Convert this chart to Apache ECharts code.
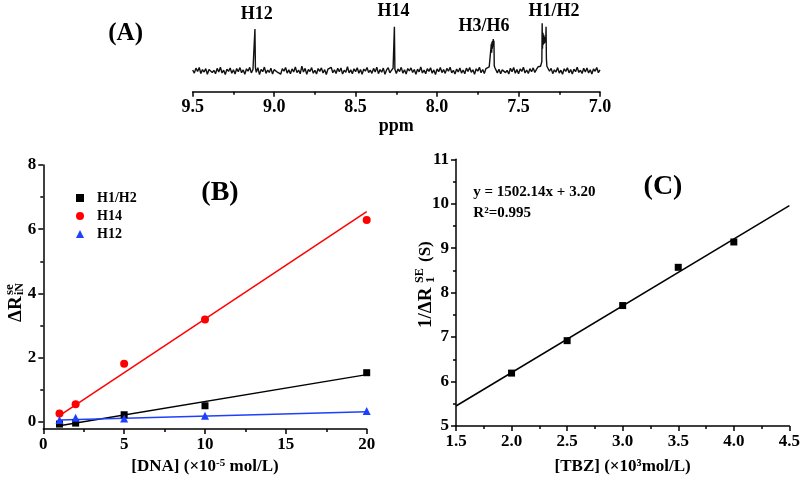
<!DOCTYPE html>
<html><head><meta charset="utf-8">
<script src="https://cdn.jsdelivr.net/npm/echarts@6/dist/echarts.min.js"></script>
<style>html,body{margin:0;padding:0;background:#fff}#c{width:803px;height:480px}</style>
</head><body><div id="c"></div>
<script>
// ---------- Panel A: 1H NMR spectrum (ppm, intensity) ----------
const spectrum = [
[9.50,0.5],[9.49,-1.8],[9.48,1.9],[9.47,-0.6],[9.46,2.4],[9.45,-2.1],[9.44,0.8],[9.43,-1.0],[9.42,1.5],[9.41,-2.6],
[9.40,0.9],[9.39,2.2],[9.38,-1.4],[9.37,0.3],[9.36,-2.3],[9.35,1.7],[9.34,-0.9],[9.33,2.6],[9.32,-1.7],[9.31,0.4],
[9.30,-2.8],[9.29,1.2],[9.28,-0.5],[9.27,2.0],[9.26,-1.9],[9.25,0.7],[9.24,-2.4],[9.23,1.6],[9.22,-0.8],[9.21,2.3],
[9.20,-1.5],[9.19,0.6],[9.18,-2.7],[9.17,1.4],[9.16,-0.3],[9.15,2.5],[9.14,-1.6],[9.13,0.9],[9.12,1.8],
[9.118,30.9],[9.115,2.2],
[9.11,-1.2],[9.10,2.2],[9.09,-2.9],[9.08,1.0],[9.07,-0.7],[9.06,2.7],[9.05,-2.0],[9.04,0.5],[9.03,-1.3],[9.02,1.9],
[9.01,-2.5],[9.00,0.8],[8.99,2.1],[8.98,-1.1],[8.97,0.2],[8.96,-2.6],[8.95,1.5],[8.94,-0.4],[8.93,2.4],[8.92,-1.8],
[8.91,0.6],[8.90,-2.2],[8.89,1.3],[8.88,-0.9],[8.87,2.8],[8.86,-1.4],[8.85,0.4],[8.84,-2.3],[8.83,3.4],[8.82,-1.0],
[8.81,1.7],[8.80,-2.7],[8.79,0.9],[8.78,-0.6],[8.77,2.3],[8.76,-1.9],[8.75,0.3],[8.74,-2.4],[8.73,1.6],[8.72,-0.5],
[8.71,2.1],[8.70,-1.7],[8.69,0.8],[8.68,-2.8],[8.67,1.1],[8.66,-0.2],[8.65,2.5],[8.64,-1.5],[8.63,0.7],[8.62,-2.1],
[8.61,1.8],[8.60,-0.8],[8.59,2.0],[8.58,-2.5],[8.57,0.4],[8.56,-1.2],[8.55,2.9],[8.54,-1.6],[8.53,0.6],[8.52,-2.3],
[8.51,1.4],[8.50,-0.7],[8.49,2.2],[8.48,-1.9],[8.47,0.9],[8.46,-2.6],[8.45,1.2],[8.44,-0.3],[8.43,2.4],[8.42,-1.4],
[8.41,0.5],[8.40,-2.0],[8.39,1.7],[8.38,-0.9],[8.37,2.6],[8.36,-2.2],[8.35,0.8],[8.34,-1.1],[8.33,1.9],[8.32,-2.7],
[8.31,0.6],[8.30,2.3],[8.29,-1.5],[8.28,0.2],[8.27,1.8],
[8.265,0.8],[8.262,32.6],[8.259,1.1],
[8.25,-2.1],[8.24,1.3],[8.23,-0.6],[8.22,2.5],[8.21,-1.8],[8.20,0.7],[8.19,-2.4],[8.18,1.6],[8.17,-0.2],[8.16,2.1],
[8.15,-1.3],[8.14,0.9],[8.13,-2.6],[8.12,1.1],[8.11,-0.8],[8.10,2.7],[8.09,-1.7],[8.08,0.4],[8.07,-2.2],[8.06,1.5],
[8.05,-0.5],[8.04,2.2],[8.03,-1.9],[8.02,0.6],[8.01,-2.8],[8.00,1.3],[7.99,-0.7],[7.98,2.4],[7.97,-1.4],[7.96,0.8],
[7.95,-2.0],[7.94,1.7],[7.93,-0.4],[7.92,2.6],[7.91,-1.6],[7.90,0.3],[7.89,-2.5],[7.88,1.2],[7.87,-0.9],[7.86,2.0],
[7.85,-1.8],[7.84,0.5],[7.83,-2.3],[7.82,1.9],[7.81,-0.6],[7.80,2.3],[7.79,-1.2],[7.78,0.7],[7.77,-2.7],[7.76,1.4],
[7.75,-0.3],[7.74,2.5],[7.73,-1.5],[7.72,0.9],[7.71,-2.1],[7.70,1.6],[7.69,0.2],[7.68,2.8],[7.675,3.0],
[7.670,3.2],[7.667,20.0],[7.665,13.3],[7.663,21.5],[7.661,16.3],[7.659,22.2],[7.657,17.8],[7.655,23.5],[7.653,19.3],[7.651,22.2],[7.649,3.7],
[7.645,2.2],[7.64,0.8],[7.63,-1.6],[7.62,1.1],[7.61,-2.3],[7.60,0.6],[7.59,2.0],[7.58,-1.4],[7.57,0.3],[7.56,-2.5],
[7.55,1.8],[7.54,-0.7],[7.53,2.4],[7.52,-1.9],[7.51,0.8],[7.50,-2.2],[7.49,1.3],[7.48,-0.5],[7.47,2.6],[7.46,-1.7],
[7.45,0.5],[7.44,-2.0],[7.43,1.5],[7.42,-0.8],[7.41,2.1],[7.40,-1.3],[7.39,1.0],[7.38,2.9],[7.37,2.0],[7.365,3.3],
[7.360,3.5],[7.357,6.7],[7.355,35.1],[7.353,16.3],[7.350,28.1],[7.348,19.3],[7.345,26.7],[7.343,20.0],[7.340,25.2],
[7.338,20.7],[7.335,24.4],[7.333,22.2],[7.331,32.6],[7.329,8.9],[7.326,3.3],
[7.32,2.2],[7.31,-0.4],[7.30,1.7],[7.29,-2.2],[7.28,0.6],[7.27,-1.0],[7.26,2.3],[7.25,-1.8],[7.24,0.4],[7.23,-2.6],
[7.22,1.4],[7.21,-0.5],[7.20,2.2],[7.19,-1.6],[7.18,0.9],[7.17,-2.4],[7.16,1.1],[7.15,-0.7],[7.14,2.5],[7.13,-1.3],
[7.12,0.3],[7.11,-2.1],[7.10,1.8],[7.09,-0.9],[7.08,2.0],[7.07,-1.7],[7.06,0.7],[7.05,-2.5],[7.04,1.3],[7.03,-0.4],
[7.02,2.4],[7.01,-1.5],[7.00,0.6]
];
const peakLabels = ['H12', 'H14', 'H3/H6', 'H1/H2'];

// ---------- Panel B ----------
const dnaConc = [1, 2, 5, 10, 20];
const h1h2 = [-0.07, -0.04, 0.22, 0.50, 1.53];
const h14  = [0.26, 0.55, 1.81, 3.19, 6.29];
const h12  = [0.06, 0.13, 0.10, 0.19, 0.34];
const fitH1H2 = [[1, -0.12], [20, 1.47]];
const fitH14  = [[1, 0.19], [20, 6.55]];
const fitH12  = [[1, 0.06], [20, 0.31]];
const bYTicks = [0, 2, 4, 6, 8];
const bYMinor = [1, 3, 5, 7];

// ---------- Panel C ----------
const tbzConc = [2.0, 2.5, 3.0, 3.5, 4.0];
const invR1   = [6.19, 6.92, 7.71, 8.57, 9.14];
const fitTbz  = [[1.5, 5.45], [4.5, 9.96]];
const equationText = 'y = 1502.14x + 3.20';
const r2Text = 'R\u00B2=0.995';

const SERIF = '"Liberation Serif","Times New Roman",serif';
const BLACK = '#000';
const RED = '#ff0000';
const BLUE = '#1f3fff';

function tickStyle(len) { return { show: true, length: len, inside: false, lineStyle: { color: BLACK, width: 1.5 } }; }
const axisLineS = { show: true, onZero: false, lineStyle: { color: BLACK, width: 1.5 } };
function lbl(size, extra) { return Object.assign({ color: BLACK, fontFamily: SERIF, fontWeight: 'bold', fontSize: size }, extra || {}); }

const chart = echarts.init(document.getElementById('c'), null, { renderer: 'canvas' });

const option = {
  animation: false,
  backgroundColor: '#fff',
  grid: [
    { left: 192.7, width: 407.3, top: 21.7, height: 70 },
    { left: 43.3, width: 323.4, top: 165, height: 265 },
    { left: 456, width: 334.7, top: 159.3, height: 269 }
  ],
  xAxis: [
    { gridIndex: 0, type: 'value', inverse: true, min: 7, max: 9.5, interval: 0.5,
      axisLine: axisLineS, axisTick: tickStyle(5),
      minorTick: { show: true, splitNumber: 2, length: 3, lineStyle: { color: BLACK, width: 1.5 } },
      axisLabel: lbl(18, { margin: 7, formatter: v => v.toFixed(1) }),
      splitLine: { show: false }, minorSplitLine: { show: false },
      name: 'ppm', nameLocation: 'middle', nameGap: 26, nameTextStyle: lbl(18) },
    { gridIndex: 1, type: 'value', min: 0, max: 20, interval: 5,
      axisLine: axisLineS, axisTick: tickStyle(5),
      minorTick: { show: true, splitNumber: 2, length: 3, lineStyle: { color: BLACK, width: 1.5 } },
      axisLabel: lbl(17, { margin: 7 }),
      splitLine: { show: false },
      name: '[DNA] (\u00D710{sup|-5} mol/L)', nameLocation: 'middle', nameGap: 25,
      nameTextStyle: lbl(17, { rich: { sup: lbl(11, { verticalAlign: 'top', lineHeight: 11 }) } }) },
    { gridIndex: 2, type: 'value', min: 1.5, max: 4.5, interval: 0.5,
      axisLine: axisLineS, axisTick: tickStyle(5),
      minorTick: { show: true, splitNumber: 2, length: 3, lineStyle: { color: BLACK, width: 1.5 } },
      axisLabel: lbl(17, { margin: 7, formatter: v => v.toFixed(1) }),
      splitLine: { show: false },
      name: '[TBZ] (\u00D710\u00B3mol/L)', nameLocation: 'middle', nameGap: 32, nameTextStyle: lbl(17) }
  ],
  yAxis: [
    { gridIndex: 0, type: 'value', min: -15.56, max: 36.3, show: false, splitLine: { show: false } },
    { gridIndex: 1, type: 'value', min: -0.227, max: 8, position: 'left',
      axisLine: axisLineS,
      axisTick: Object.assign(tickStyle(5), { customValues: bYTicks }),
      axisLabel: lbl(17, { margin: 7, customValues: bYTicks }),
      splitLine: { show: false } },
    { gridIndex: 1, type: 'value', min: -0.227, max: 8, position: 'left',
      axisLine: { show: false },
      axisTick: Object.assign(tickStyle(3), { customValues: bYMinor }),
      axisLabel: { show: false, customValues: bYMinor },
      splitLine: { show: false } },
    { gridIndex: 2, type: 'value', min: 5, max: 11, interval: 1,
      axisLine: axisLineS, axisTick: tickStyle(5),
      minorTick: { show: true, splitNumber: 2, length: 3, lineStyle: { color: BLACK, width: 1.5 } },
      axisLabel: lbl(17, { margin: 7 }),
      splitLine: { show: false } }
  ],
  legend: {
    data: ['H1/H2', 'H14', 'H12'],
    orient: 'vertical', left: 71, top: 186,
    itemWidth: 8, itemHeight: 8, itemGap: 4,
    textStyle: lbl(14, { padding: [0, 0, 0, 8] })
  },
  series: [
    { type: 'line', xAxisIndex: 0, yAxisIndex: 0, data: spectrum, symbol: 'none', silent: true,
      lineStyle: { color: '#111', width: 1.4 } },

    { name: 'H1/H2', type: 'scatter', xAxisIndex: 1, yAxisIndex: 1, symbol: 'rect', symbolSize: 7,
      itemStyle: { color: BLACK, opacity: 1 }, data: dnaConc.map((x, i) => [x, h1h2[i]]), z: 4 },
    { name: 'H14', type: 'scatter', xAxisIndex: 1, yAxisIndex: 1, symbol: 'circle', symbolSize: 8,
      itemStyle: { color: RED, opacity: 1 }, data: dnaConc.map((x, i) => [x, h14[i]]), z: 4 },
    { name: 'H12', type: 'scatter', xAxisIndex: 1, yAxisIndex: 1, symbol: 'triangle', symbolSize: 8,
      itemStyle: { color: BLUE, opacity: 1 }, data: dnaConc.map((x, i) => [x, h12[i]]), z: 4 },
    { type: 'line', xAxisIndex: 1, yAxisIndex: 1, data: fitH1H2, symbol: 'none', lineStyle: { color: BLACK, width: 1.5 } },
    { type: 'line', xAxisIndex: 1, yAxisIndex: 1, data: fitH14, symbol: 'none', lineStyle: { color: RED, width: 1.5 } },
    { type: 'line', xAxisIndex: 1, yAxisIndex: 1, data: fitH12, symbol: 'none', lineStyle: { color: BLUE, width: 1.5 } },

    { type: 'scatter', xAxisIndex: 2, yAxisIndex: 3, symbol: 'rect', symbolSize: 7,
      itemStyle: { color: BLACK, opacity: 1 }, data: tbzConc.map((x, i) => [x, invR1[i]]), z: 4 },
    { type: 'line', xAxisIndex: 2, yAxisIndex: 3, data: fitTbz, symbol: 'none', lineStyle: { color: BLACK, width: 1.5 } }
  ],
  graphic: [
    { type: 'text', x: 125.6, y: 34, style: { text: '(A)', font: 'bold 25px ' + SERIF, fill: BLACK, align: 'center', verticalAlign: 'middle' } },
    { type: 'text', x: 256.7, y: 14.5, style: { text: peakLabels[0], font: 'bold 18px ' + SERIF, fill: BLACK, align: 'center', verticalAlign: 'middle' } },
    { type: 'text', x: 393.5, y: 11.5, style: { text: peakLabels[1], font: 'bold 18px ' + SERIF, fill: BLACK, align: 'center', verticalAlign: 'middle' } },
    { type: 'text', x: 484, y: 26, style: { text: peakLabels[2], font: 'bold 18px ' + SERIF, fill: BLACK, align: 'center', verticalAlign: 'middle' } },
    { type: 'text', x: 554, y: 11, style: { text: peakLabels[3], font: 'bold 18px ' + SERIF, fill: BLACK, align: 'center', verticalAlign: 'middle' } },

    { type: 'text', x: 220, y: 193, style: { text: '(B)', font: 'bold 28px ' + SERIF, fill: BLACK, align: 'center', verticalAlign: 'middle' } },
    { type: 'group', x: 16, y: 322, rotation: Math.PI / 2, children: [
      { type: 'text', x: 0, y: 0, style: { text: '\u0394R', font: 'bold 19px ' + SERIF, fill: BLACK, align: 'left', verticalAlign: 'middle' } },
      { type: 'text', x: 27, y: -6, style: { text: 'se', font: 'bold 13px ' + SERIF, fill: BLACK, align: 'left', verticalAlign: 'middle' } },
      { type: 'text', x: 27, y: 4, style: { text: 'iN', font: 'bold 12px ' + SERIF, fill: BLACK, align: 'left', verticalAlign: 'middle' } }
    ] },

    { type: 'text', x: 663, y: 187, style: { text: '(C)', font: 'bold 28px ' + SERIF, fill: BLACK, align: 'center', verticalAlign: 'middle' } },
    { type: 'text', x: 473.3, y: 191.7, style: { text: equationText, font: 'bold 15px ' + SERIF, fill: BLACK, align: 'left', verticalAlign: 'middle' } },
    { type: 'text', x: 473.3, y: 213.3, style: { text: r2Text, font: 'bold 15px ' + SERIF, fill: BLACK, align: 'left', verticalAlign: 'middle' } },
    { type: 'group', x: 426, y: 328, rotation: Math.PI / 2, children: [
      { type: 'text', x: 0, y: 0, style: { text: '1/\u0394R', font: 'bold 19px ' + SERIF, fill: BLACK, align: 'left', verticalAlign: 'middle' } },
      { type: 'text', x: 45, y: -6, style: { text: 'SE', font: 'bold 12px ' + SERIF, fill: BLACK, align: 'left', verticalAlign: 'middle' } },
      { type: 'text', x: 45, y: 5, style: { text: '1', font: 'bold 13px ' + SERIF, fill: BLACK, align: 'left', verticalAlign: 'middle' } },
      { type: 'text', x: 66, y: 0, style: { text: '(S)', font: 'bold 17px ' + SERIF, fill: BLACK, align: 'left', verticalAlign: 'middle' } }
    ] }
  ]
};
chart.setOption(option);
</script>
</body></html>
